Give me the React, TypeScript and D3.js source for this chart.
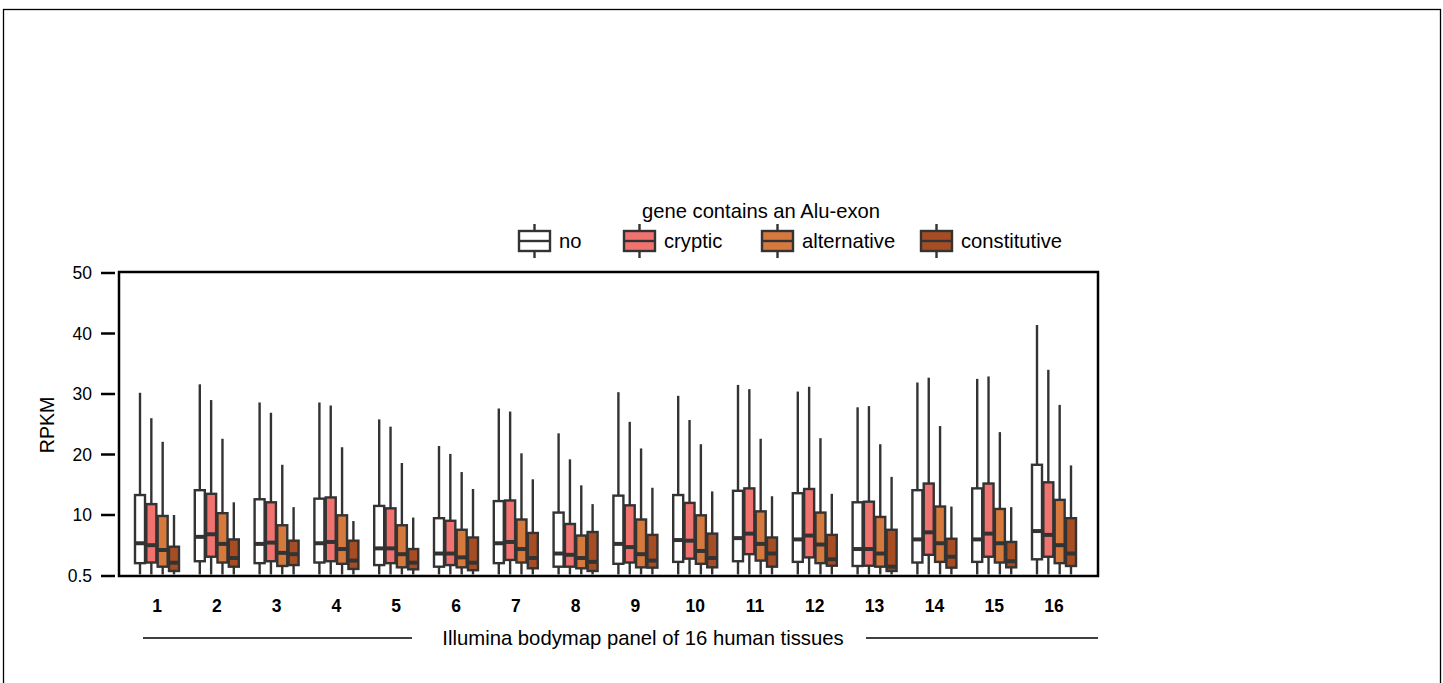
import React, { useEffect, useRef } from "react";
import * as d3 from "d3";

// tissues 1..16
const tissues = d3.range(1, 17).map(String);
const groups = ["no", "cryptic", "alternative", "constitutive"];
const colors = ["#ffffff", "#f07370", "#d5793d", "#a74d24"];
const yTicks = [0.5, 10, 20, 30, 40, 50];

// per tissue: [upper whisker, q3, median, q1] for each group
const noVals = [
  [30.2, 13.3, 5.6, 2.5], [31.6, 14.1, 6.6, 2.8], [28.6, 12.6, 5.5, 2.5], [28.6, 12.7, 5.6, 2.6],
  [25.8, 11.5, 4.8, 2.2], [21.4, 9.5, 4.0, 1.95], [27.6, 12.3, 5.6, 2.5], [23.5, 10.4, 4.0, 1.95],
  [30.3, 13.2, 5.5, 2.4], [29.7, 13.3, 6.1, 2.7], [31.5, 14.0, 6.4, 2.8], [30.4, 13.6, 6.2, 2.7],
  [27.8, 12.1, 4.7, 2.06], [31.9, 14.1, 6.2, 2.6], [32.5, 14.4, 6.2, 2.7], [41.4, 18.3, 7.5, 3.1],
];
const crypticVals = [
  [26.0, 11.8, 5.3, 2.6], [29.0, 13.5, 7.0, 3.5], [26.9, 12.1, 5.7, 2.8], [28.1, 12.9, 5.8, 2.8],
  [24.6, 11.1, 4.8, 2.5], [20.1, 9.1, 4.0, 2.2], [27.1, 12.4, 5.8, 3.0], [19.2, 8.6, 3.8, 1.95],
  [25.4, 11.6, 5.0, 2.6], [25.7, 12.0, 6.0, 3.2], [30.8, 14.4, 7.1, 3.9], [31.2, 14.3, 6.8, 3.4],
  [28.0, 12.2, 4.7, 2.1], [32.7, 15.2, 7.3, 3.8], [32.9, 15.2, 7.1, 3.5], [34.0, 15.4, 6.9, 3.5],
];
const alternativeVals = [
  [22.1, 9.85, 4.55, 1.95], [22.6, 10.3, 5.5, 2.6], [18.3, 8.4, 4.1, 2.06], [21.2, 9.95, 4.7, 2.4],
  [18.6, 8.4, 3.9, 1.85], [17.1, 7.7, 3.4, 1.85], [20.2, 9.3, 4.7, 2.6], [14.9, 6.8, 3.3, 1.7],
  [21.0, 9.3, 3.9, 1.85], [21.7, 9.95, 4.4, 2.4], [22.6, 10.6, 5.5, 2.9], [22.7, 10.4, 5.4, 2.5],
  [21.7, 9.7, 4.0, 1.95], [24.7, 11.4, 5.6, 2.7], [23.7, 11.0, 5.6, 2.6], [28.2, 12.5, 5.3, 2.5],
];
const constitutiveVals = [
  [10.0, 5.06, 2.57, 1.28], [12.1, 6.2, 3.3, 1.95], [11.3, 6.0, 3.9, 2.2], [9.06, 6.0, 2.9, 1.6],
  [9.6, 4.7, 2.57, 1.54], [14.3, 6.5, 2.57, 1.4], [15.9, 7.2, 3.3, 1.7], [11.8, 7.35, 2.7, 1.28],
  [14.5, 6.9, 2.9, 1.8], [13.9, 7.1, 3.3, 1.85], [13.1, 6.5, 4.0, 1.95], [13.5, 6.9, 3.1, 2.1],
  [16.3, 7.7, 1.95, 1.28], [11.4, 6.3, 3.5, 1.8], [11.3, 5.8, 2.8, 1.85], [18.2, 9.5, 4.0, 2.06],
];
const lowerWhisker = 0.75;

const App = () => {
  const svgRef = useRef(null);

  useEffect(() => {
    document.body.style.margin = "0";
    const svg = d3.select(svgRef.current);
    svg.selectAll("*").remove();

    const font = "'Liberation Sans', Arial, Helvetica, sans-serif";
    const left = 119, right = 1098, top = 272, bottom = 576;
    const dark = "#333333";

    // outer frame of the figure
    svg.append("rect")
      .attr("x", 3.5).attr("y", 9.5).attr("width", 1437).attr("height", 700)
      .attr("fill", "none").attr("stroke", "#000").attr("stroke-width", 1.3);

    const x = d3.scaleLinear().domain([1, 16]).range([157, 1054]);
    const offset = d3.scaleLinear().domain([0, 3]).range([-17, 17]);
    const y = d3.scaleLinear().domain([0.5, 10, 50]).range([bottom, 515, 273]);

    const all = [noVals, crypticVals, alternativeVals, constitutiveVals];
    const boxes = [];
    tissues.forEach((t, i) => {
      groups.forEach((g, j) => {
        const [hi, q3, med, q1] = all[j][i];
        boxes.push({ cx: x(i + 1) + offset(j), hi, q3, med, q1, color: colors[j] });
      });
    });

    svg.append("defs").append("clipPath").attr("id", "plotclip")
      .append("rect").attr("x", left).attr("y", top).attr("width", right - left).attr("height", bottom - top);

    const plot = svg.append("g").attr("clip-path", "url(#plotclip)");
    const bw = 10;
    const bg = plot.selectAll("g.box").data(boxes).enter().append("g");
    bg.append("line")
      .attr("x1", (d) => d.cx).attr("x2", (d) => d.cx)
      .attr("y1", (d) => y(d.hi)).attr("y2", y(lowerWhisker))
      .attr("stroke", dark).attr("stroke-width", 2.4);
    bg.append("rect")
      .attr("x", (d) => d.cx - bw / 2).attr("width", bw)
      .attr("y", (d) => y(d.q3)).attr("height", (d) => y(d.q1) - y(d.q3))
      .attr("fill", (d) => d.color).attr("stroke", dark).attr("stroke-width", 2.4);
    bg.append("line")
      .attr("x1", (d) => d.cx - bw / 2).attr("x2", (d) => d.cx + bw / 2)
      .attr("y1", (d) => y(d.med)).attr("y2", (d) => y(d.med))
      .attr("stroke", dark).attr("stroke-width", 4);

    // plot frame
    svg.append("rect")
      .attr("x", left).attr("y", top).attr("width", right - left).attr("height", bottom - top)
      .attr("fill", "none").attr("stroke", "#000").attr("stroke-width", 2.5);

    // y axis
    const ya = svg.append("g");
    ya.selectAll("line").data(yTicks).enter().append("line")
      .attr("x1", 101).attr("x2", 115).attr("y1", (d) => y(d)).attr("y2", (d) => y(d))
      .attr("stroke", "#000").attr("stroke-width", 2.5);
    ya.selectAll("text").data(yTicks).enter().append("text")
      .attr("x", 92).attr("y", (d) => y(d)).attr("dy", "0.36em")
      .attr("text-anchor", "end").attr("font-family", font).attr("font-size", 17.5)
      .text((d) => String(d));
    svg.append("text")
      .attr("transform", `translate(54,425) rotate(-90)`)
      .attr("text-anchor", "middle").attr("font-family", font).attr("font-size", 19.5)
      .text("RPKM");

    // x labels
    svg.append("g").selectAll("text").data(tissues).enter().append("text")
      .attr("x", (d, i) => x(i + 1)).attr("y", 612)
      .attr("text-anchor", "middle").attr("font-family", font).attr("font-size", 17.5)
      .attr("font-weight", "bold").text((d) => d);

    svg.append("text")
      .attr("x", 643).attr("y", 645).attr("text-anchor", "middle")
      .attr("font-family", font).attr("font-size", 20.3)
      .text("Illumina bodymap panel of 16 human tissues");
    svg.append("line").attr("x1", 143).attr("x2", 412).attr("y1", 638).attr("y2", 638)
      .attr("stroke", "#000").attr("stroke-width", 1.3);
    svg.append("line").attr("x1", 866).attr("x2", 1098).attr("y1", 638).attr("y2", 638)
      .attr("stroke", "#000").attr("stroke-width", 1.3);

    // legend
    svg.append("text")
      .attr("x", 761).attr("y", 218).attr("text-anchor", "middle")
      .attr("font-family", font).attr("font-size", 20.2)
      .text("gene contains an Alu-exon");
    const legX = [519, 624, 762, 921];
    const ly = 241;
    const lg = svg.append("g").selectAll("g").data(groups).enter().append("g")
      .attr("transform", (d, i) => `translate(${legX[i]},${ly})`);
    lg.append("line").attr("x1", 15.5).attr("x2", 15.5).attr("y1", -17).attr("y2", 17)
      .attr("stroke", dark).attr("stroke-width", 2.4);
    lg.append("rect").attr("x", 0).attr("y", -10).attr("width", 31).attr("height", 20)
      .attr("fill", (d, i) => colors[i]).attr("stroke", dark).attr("stroke-width", 2.4);
    lg.append("line").attr("x1", 0).attr("x2", 31).attr("y1", 0).attr("y2", 0)
      .attr("stroke", dark).attr("stroke-width", 2.4);
    lg.append("text").attr("x", 40).attr("y", 0).attr("dy", "0.36em")
      .attr("font-family", font).attr("font-size", 20.2).text((d) => d);
  }, []);

  return <svg ref={svgRef} width={1443} height={683} style={{ display: "block" }}></svg>;
};

export default App;
